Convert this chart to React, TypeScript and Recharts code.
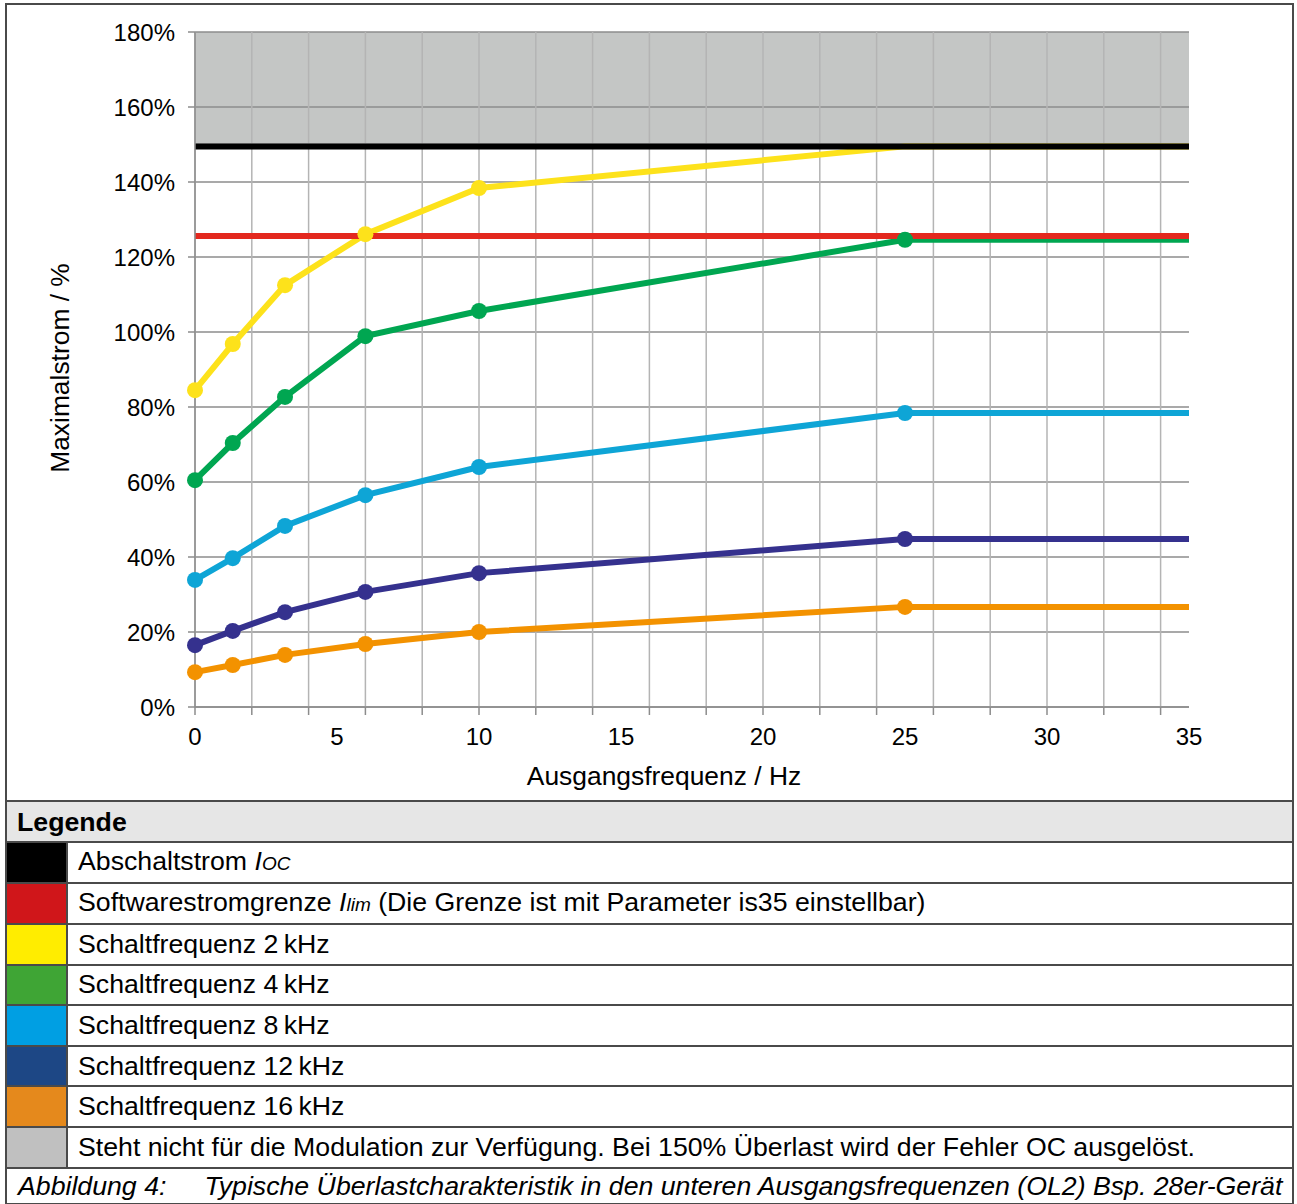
import { ComposedChart, Line, XAxis, YAxis, CartesianGrid, ReferenceLine } from 'recharts';

// Ausgangsfrequenz in Hz (letzter Punkt ohne Markierung)
const freqs = [0, 1.33, 3.17, 6, 10, 25, 35];

// Maximalstrom in % je Schaltfrequenz
const sw2 = [84.5, 96.8, 112.5, 126.1, 138.4, 149.5, 149.5];
const sw4 = [60.5, 70.4, 82.7, 98.9, 105.6, 124.6, 124.6];
const sw8 = [33.9, 39.7, 48.3, 56.5, 64.0, 78.4, 78.4];
const sw12 = [16.5, 20.3, 25.3, 30.7, 35.7, 44.8, 44.8];
const sw16 = [9.3, 11.2, 13.9, 16.8, 20.0, 26.7, 26.7];

const abschaltstrom = 149.5;
const softwaregrenze = 125.6;
const sperrbereich = 150; // grauer Bereich ab 150%

const yTicks = [0, 20, 40, 60, 80, 100, 120, 140, 160, 180];
const xGridTicks = [0, 2, 4, 6, 8, 10, 12, 14, 16, 18, 20, 22, 24, 26, 28, 30, 32, 34];
const xLabelTicks = [0, 5, 10, 15, 20, 25, 30, 35];
const xAllTicks = Array.from(new Set([...xGridTicks, ...xLabelTicks])).sort((a, b) => a - b);

const legendRows = [
  { color: '#000000', text: <>Abschaltstrom <i>I<span style={{ fontSize: 19 }}>OC</span></i></> },
  { color: '#d0161a', text: <>Softwarestromgrenze <i>I<span style={{ fontSize: 19 }}>lim</span></i> (Die Grenze ist mit Parameter is35 einstellbar)</> },
  { color: '#ffed00', text: 'Schaltfrequenz 2\u2009kHz' },
  { color: '#3fa535', text: 'Schaltfrequenz 4\u2009kHz' },
  { color: '#009fe3', text: 'Schaltfrequenz 8\u2009kHz' },
  { color: '#1d4785', text: 'Schaltfrequenz 12\u2009kHz' },
  { color: '#e5891c', text: 'Schaltfrequenz 16\u2009kHz' },
  { color: '#c0c0c0', text: 'Steht nicht für die Modulation zur Verfügung. Bei 150% Überlast wird der Fehler OC ausgelöst.' },
];

const data = freqs.map((f, i) => ({
  f,
  sw2: sw2[i],
  sw4: sw4[i],
  sw8: sw8[i],
  sw12: sw12[i],
  sw16: sw16[i],
}));

const series = [
  { key: 'sw16', color: '#f39200', lastDot: 5 },
  { key: 'sw12', color: '#35318e', lastDot: 5 },
  { key: 'sw8', color: '#0ea5d6', lastDot: 5 },
  { key: 'sw4', color: '#00a651', lastDot: 5 },
  { key: 'sw2', color: '#fde21b', lastDot: 4 },
];

const font = '"Liberation Sans", Arial, sans-serif';

// horizontale Gitterwerte inkl. 150% als Grenze für die graue Fläche
const hValues = [...yTicks, sperrbereich].sort((a, b) => a - b);
// Streifen von oben nach unten: 180-160, 160-150 grau, Rest transparent
const hFill = hValues.map((_, i) => (i < 2 ? '#c4c6c5' : 'transparent'));

const makeDot = (color: string, lastDot: number) => (props: any) => {
  const { cx, cy, index } = props;
  if (index > lastDot || cx == null || cy == null) return <g key={`d-${index}`} />;
  return <circle key={`d-${index}`} cx={cx} cy={cy} r={8} fill={color} stroke="none" />;
};

// Tick-Striche alle 2 Hz, Beschriftung alle 5 Hz
const XTick = (props: any) => {
  const { x, y, payload } = props;
  const v = payload.value as number;
  return (
    <g>
      {v % 2 === 0 && <line x1={x} y1={y} x2={x} y2={y + 8} stroke="#8c8c8c" strokeWidth={1.5} />}
      {v % 5 === 0 && (
        <text x={x} y={y + 29} textAnchor="middle" dominantBaseline="central" fontSize={24} fill="#000">
          {v}
        </text>
      )}
    </g>
  );
};

const cellBorder = '2px solid #4a4a4a';

const App = () => {
  return (
    <div
      style={{
        position: 'absolute',
        left: 5,
        top: 3,
        width: 1289,
        boxSizing: 'border-box',
        border: cellBorder,
        fontFamily: font,
        background: '#fff',
      }}
    >
      <ComposedChart
        width={1285}
        height={795}
        data={data}
        margin={{ top: 27, right: 103, left: 0, bottom: 0 }}
        style={{ fontFamily: font }}
      >
        <CartesianGrid
          vertical={false}
          horizontalValues={hValues}
          horizontalFill={hFill}
          fillOpacity={1}
          stroke="#8c8c8c"
          strokeWidth={1.5}
        />
        <CartesianGrid horizontal={false} verticalValues={xGridTicks} stroke="#b4b4b4" strokeWidth={1.5} />
        <XAxis
          dataKey="f"
          type="number"
          domain={[0, 35]}
          ticks={xAllTicks}
          interval={0}
          tick={<XTick />}
          tickLine={false}
          tickSize={0}
          tickMargin={0}
          height={93}
          stroke="#8c8c8c"
          strokeWidth={1.5}
          label={{
            content: () => (
              <text x={657} y={771} textAnchor="middle" dominantBaseline="central" fontSize={26.4} fill="#000">
                Ausgangsfrequenz / Hz
              </text>
            ),
          }}
        />
        <YAxis
          type="number"
          domain={[0, 180]}
          ticks={yTicks}
          width={188}
          tickSize={7}
          tickMargin={13}
          interval={0}
          stroke="#8c8c8c"
          strokeWidth={1.5}
          tickFormatter={(v: number) => `${v}%`}
          tick={{ fontSize: 24, fill: '#000' }}
          label={{
            content: () => (
              <text
                x={53}
                y={363}
                textAnchor="middle"
                dominantBaseline="central"
                fontSize={26.4}
                fill="#000"
                transform="rotate(-90, 53, 363)"
              >
                Maximalstrom / %
              </text>
            ),
          }}
        />
        {series.map((s) => (
          <Line
            key={s.key}
            dataKey={s.key}
            type="linear"
            stroke={s.color}
            strokeWidth={6}
            dot={makeDot(s.color, s.lastDot)}
            activeDot={false}
            isAnimationActive={false}
          />
        ))}
        <ReferenceLine y={softwaregrenze} stroke="#e3281e" strokeWidth={6} />
        <ReferenceLine y={abschaltstrom} stroke="#000000" strokeWidth={6} />
      </ComposedChart>
      <table
        style={{
          width: '100%',
          borderCollapse: 'collapse',
          fontFamily: font,
          fontSize: 26.7,
          color: '#000',
          tableLayout: 'fixed',
        }}
      >
        <colgroup>
          <col style={{ width: 60 }} />
          <col />
        </colgroup>
        <tbody>
          <tr style={{ height: 41 }}>
            <td
              colSpan={2}
              style={{
                background: '#e6e6e6',
                borderTop: cellBorder,
                borderBottom: cellBorder,
                fontWeight: 'bold',
                padding: '0 10px',
                lineHeight: '38px',
              }}
            >
              Legende
            </td>
          </tr>
          {legendRows.map((r, i) => (
            <tr key={i} style={{ height: 40.6 }}>
              <td style={{ background: r.color, borderBottom: cellBorder, borderRight: cellBorder, padding: 0 }} />
              <td style={{ borderBottom: cellBorder, padding: '0 10px', lineHeight: '37px', whiteSpace: 'nowrap' }}>{r.text}</td>
            </tr>
          ))}
          <tr style={{ height: 34 }}>
            <td colSpan={2} style={{ padding: '0 11px', fontStyle: 'italic', lineHeight: '34px', whiteSpace: 'nowrap' }}>
              Abbildung 4:<span style={{ display: 'inline-block', width: 38 }} />Typische Überlastcharakteristik in den unteren Ausgangsfrequenzen (OL2) Bsp. 28er-Gerät
            </td>
          </tr>
        </tbody>
      </table>
    </div>
  );
};

export default App;
